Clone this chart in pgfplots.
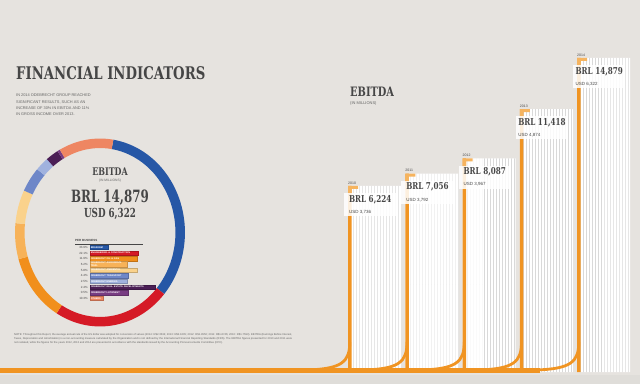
\documentclass[border=0pt]{standalone}
\usepackage{pgfplots}
\pgfplotsset{compat=1.18}
\usepackage{pgfplotstable}
\usetikzlibrary{patterns}
\usepackage{fontspec}
\setmainfont{Liberation Sans}
\newfontfamily\slab{DejaVu Serif}[FakeStretch=0.76]
\newfontfamily\slabc{DejaVu Serif}[FakeStretch=0.70]

\definecolor{bg}{RGB}{230,227,223}
\definecolor{bgb}{RGB}{223,221,217}
\definecolor{txt}{RGB}{70,70,70}
\definecolor{txt2}{RGB}{100,100,100}
\definecolor{cBlue}{RGB}{38,87,166}
\definecolor{cRed}{RGB}{213,26,38}
\definecolor{cOrange}{RGB}{241,143,28}
\definecolor{cLOrange}{RGB}{247,178,88}
\definecolor{cPale}{RGB}{250,210,140}
\definecolor{cPeri}{RGB}{110,135,200}
\definecolor{cLPeri}{RGB}{160,178,222}
\definecolor{cDPurple}{RGB}{75,30,85}
\definecolor{cPurple}{RGB}{120,60,130}
\definecolor{cSalmon}{RGB}{238,134,98}
\definecolor{cBar}{RGB}{240,148,34}
\definecolor{cTab}{RGB}{246,180,95}

% EBITDA in BRL and USD millions
\pgfplotstableread{
x year brl usd
0 2010 6224 3736
1 2011 7056 3792
2 2012 8087 3967
3 2013 11418 4874
4 2014 14879 6322
}\ebitda

\pgfdeclareplotmark{tab}{%
  \pgfpathrectangle{\pgfpoint{0bp}{-3bp}}{\pgfpoint{10bp}{3bp}}%
  \pgfpathrectangle{\pgfpoint{0bp}{-8bp}}{\pgfpoint{3.5bp}{8bp}}%
  \pgfusepathqfill}
\pgfdeclareplotmark{curl}{%
  \pgfsetlinewidth{2.8bp}%
  \pgfpathmoveto{\pgfpoint{1.75bp}{8bp}}%
  \pgfpathcurveto{\pgfpoint{1.75bp}{-12bp}}{\pgfpoint{-6bp}{-19bp}}{\pgfpoint{-42bp}{-20bp}}%
  \pgfusepathqstroke}

\newcommand\legrow[5]{%
  \node[anchor=east, inner sep=0, text=txt, font=\fontsize{3}{3}\selectfont] at (88,#1) {#2\%};
  \node[anchor=west, inner sep=0.6bp, minimum width=#4bp, minimum height=4.3bp, text width=#4bp-1.2bp,
        fill=#3, draw=#3!80!black, line width=0.3bp, text=white, font=\fontsize{2.4}{2.6}\selectfont\bfseries] at (90,#1) {#5};}

\begin{document}
\begin{tikzpicture}
\begin{axis}[width=640bp, height=384bp, scale only axis,
  xmin=0, xmax=640, ymin=-12, ymax=372, hide axis, clip=false,
  /pgf/number format/fixed, /pgf/number format/precision=0,
  /pgf/number format/1000 sep={,}, /pgf/number format/assume math mode=true]

\fill[bg] (0,-12) rectangle (640,372);
\fill[bgb] (0,-12) rectangle (640,-3);

% ---------- title and intro
\node[anchor=base west, inner sep=0, text=txt] at (16,292) {\slab\bfseries\fontsize{17.5}{18}\selectfont FINANCIAL INDICATORS};
\node[anchor=north west, inner sep=0, align=left, text=txt2, font=\fontsize{3.9}{6.3}\selectfont] at (16,278)
 {IN 2014 ODEBRECHT GROUP REACHED\\SIGNIFICANT RESULTS, SUCH AS AN\\INCREASE OF 30\% IN EBITDA AND 11\%\\IN GROSS INCOME OVER 2013.};

% ---------- donut (EBITDA per business, %)
\xdef\angA{81}
\foreach \p/\c in {33.9/cBlue,22.1/cRed,11.9/cOrange,6.2/cLOrange,5.8/cPale,4.4/cPeri,2.5/cLPeri,2.4/cDPurple,0.5/cPurple,10.3/cSalmon}{
  \pgfmathsetmacro\angB{\angA-3.6*\p}
  \edef\temp{\noexpand\addplot[\c, line width=9.5bp, domain=\angB:\angA, samples=50, mark=none] ({100+80.2*cos(x)},{139.5+89.2*sin(x)});}
  \temp
  \xdef\angA{\angB}
}

\node[text=txt, inner sep=0] at (110,200) {\slab\bfseries\fontsize{10.5}{11}\selectfont EBITDA};
\node[text=txt2, inner sep=0, font=\fontsize{3.3}{4}\selectfont] at (110,191) {(IN MILLIONS)};
\node[text=txt, inner sep=0] at (110,174) {\slabc\bfseries\fontsize{17}{18}\selectfont BRL 14,879};
\node[text=txt, inner sep=0] at (110,158) {\slabc\bfseries\fontsize{12.5}{13}\selectfont USD 6,322};

\node[anchor=base west, inner sep=0, text=txt, font=\fontsize{3}{3}\selectfont\bfseries] at (75,131) {PER BUSINESS};
\draw[txt, line width=0.5bp] (75,128) -- (143,128);
\legrow{124.7}{33.9}{cBlue}{18}{BRASKEM}
\legrow{119.03}{22.1}{cRed}{48}{ENGINEERING \& CONSTRUCTION}
\legrow{113.36}{11.9}{cOrange}{47}{ODEBRECHT OIL \& GAS}
\legrow{107.69}{6.2}{cLOrange}{37}{ODEBRECHT AGROINDUSTRIAL}
\legrow{102.02}{5.8}{cPale}{47}{ODEBRECHT AMBIENTAL}
\legrow{96.35}{4.4}{cPeri}{38}{ODEBRECHT TRANSPORT}
\legrow{90.68}{2.5}{cLPeri}{37}{ODEBRECHT ENERGIA}
\legrow{85.01}{2.4}{cDPurple}{65}{ODEBRECHT REAL ESTATE DEVELOPMENTS}
\legrow{79.34}{0.5}{cPurple}{38}{ODEBRECHT LATINVEST}
\legrow{73.67}{10.3}{cSalmon}{13}{OTHERS}

% ---------- EBITDA bars
\node[anchor=base west, inner sep=0, text=txt] at (350,275) {\slab\bfseries\fontsize{13}{13}\selectfont EBITDA};
\node[anchor=base west, inner sep=0, text=txt2, font=\fontsize{4}{4}\selectfont] at (350,267) {(IN MILLIONS)};

\addplot[ybar, bar width=53, bar shift=26.5, fill=white, draw=none]
  table[x expr=348+57.25*\thisrow{x}, y expr=94+0.0148*\thisrow{brl}]{\ebitda};
\addplot[ybar, bar width=53, bar shift=26.5, draw=none, pattern=vertical lines, pattern color=gray!30]
  table[x expr=348+57.25*\thisrow{x}, y expr=94+0.0148*\thisrow{brl}]{\ebitda};
\addplot[ybar, bar width=3.5, bar shift=1.75, fill=cBar, draw=none]
  table[x expr=348+57.25*\thisrow{x}, y expr=94+0.0148*\thisrow{brl}]{\ebitda};
\addplot[only marks, mark=tab, color=cTab]
  table[x expr=348+57.25*\thisrow{x}, y expr=94+0.0148*\thisrow{brl}]{\ebitda};

% base band and bar feet
\addplot[only marks, mark=curl, color=cBar]
  table[x expr=348+57.25*\thisrow{x}, y expr=22]{\ebitda};
\fill[cBar] (0,-1) rectangle (540,4.5);

\addplot[draw=none, mark=none, point meta=\thisrow{year},
  nodes near coords={\pgfmathprintnumber[1000 sep={}]{\pgfplotspointmeta}},
  every node near coord/.style={anchor=south west, inner sep=0, yshift=1.5bp, text=txt, font=\fontsize{3.5}{3.5}\selectfont}]
  table[x expr=348+57.25*\thisrow{x}, y expr=94+0.0148*\thisrow{brl}]{\ebitda};
\addplot[draw=none, mark=none, point meta=\thisrow{brl},
  visualization depends on={\thisrow{usd}\as\usd},
  nodes near coords={{\slab\bfseries\fontsize{9.5}{10}\selectfont BRL \pgfmathprintnumber{\pgfplotspointmeta}}\\[-0.5bp]{\fontsize{4.5}{5}\selectfont USD \pgfmathprintnumber{\usd}}},
  every node near coord/.style={anchor=north west, xshift=-4bp, yshift=-7bp, fill=white, fill opacity=0.85, text opacity=1,
     align=left, inner sep=2bp, minimum width=52bp, text=txt}]
  table[x expr=348+57.25*\thisrow{x}, y expr=94+0.0148*\thisrow{brl}]{\ebitda};

% ---------- note
\node[anchor=north west, inner sep=0, text width=278bp, align=justify, text=txt2, font=\fontsize{2.7}{4.4}\selectfont] at (14,39)
 {NOTE: Throughout this Report, the average annual rate of the US dollar was adopted for conversion of values (2014: R\$2.3534; 2013: R\$2.1605; 2012: R\$1.9550; 2011: R\$1.6746; 2010: R\$1.7593). EBITDA (Earnings Before Interest, Taxes, Depreciation and Amortization) is a non-accounting measure calculated by the Organization and is not defined by the International Financial Reporting Standards (IFRS). The EBITDA figures presented for 2010 and 2011 were not restated, while the figures for the years 2012, 2013 and 2014 are presented in accordance with the standards issued by the Accounting Pronouncements Committee (CPC).};
\end{axis}
\end{tikzpicture}
\end{document}
